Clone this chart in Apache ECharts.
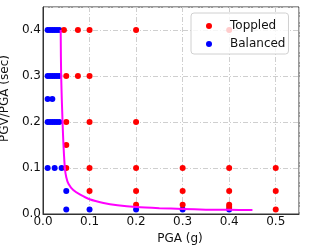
<!DOCTYPE html>
<html>
<head>
<meta charset="utf-8">
<script src="https://cdn.jsdelivr.net/npm/echarts@6/dist/echarts.min.js"></script>
<style>html,body{margin:0;padding:0;background:#fff}#c{width:311px;height:249px}</style>
</head>
<body>
<div id="c"></div>
<script>
// Toppled points [PGA (g), PGV/PGA (sec)]
const toppledPoints = [
  [0.045,0.40],[0.075,0.40],[0.1,0.40],[0.2,0.40],[0.4,0.40],
  [0.05,0.30],[0.075,0.30],[0.1,0.30],
  [0.05,0.20],[0.1,0.20],[0.2,0.20],
  [0.05,0.15],
  [0.05,0.10],[0.1,0.10],[0.2,0.10],[0.3,0.10],[0.4,0.10],[0.5,0.10],
  [0.1,0.05],[0.2,0.05],[0.3,0.05],[0.4,0.05],[0.5,0.05],
  [0.2,0.02],[0.3,0.02],[0.4,0.02],[0.4,0.015],[0.5,0.01]
];
// Balanced points
const balancedPoints = [
  [0.01,0.40],[0.015,0.40],[0.02,0.40],[0.025,0.40],[0.03,0.40],[0.035,0.40],
  [0.01,0.30],[0.015,0.30],[0.02,0.30],[0.025,0.30],[0.03,0.30],[0.035,0.30],
  [0.01,0.25],[0.02,0.25],
  [0.01,0.20],[0.015,0.20],[0.02,0.20],[0.025,0.20],[0.03,0.20],[0.035,0.20],
  [0.01,0.10],[0.025,0.10],[0.04,0.10],
  [0.05,0.05],
  [0.05,0.01],[0.1,0.01],[0.2,0.01],[0.3,0.01],[0.4,0.01]
];
// Boundary curve
const boundaryCurve = [
  [0.038,0.40],[0.039,0.30],[0.042,0.20],[0.044,0.15],[0.047,0.10],[0.050,0.08],
  [0.055,0.065],[0.065,0.052],[0.08,0.042],[0.1,0.032],[0.13,0.024],[0.16,0.019],
  [0.2,0.015],[0.25,0.0125],[0.3,0.011],[0.35,0.0095],[0.4,0.009],[0.45,0.0085]
];
const xName = 'PGA (g)';
const yName = 'PGV/PGA (sec)';
const legendNames = ['Toppled','Balanced'];

const font = 'DejaVu Sans';
const chart = echarts.init(document.getElementById('c'), null, {renderer:'canvas'});
const gridLine = {show:true, lineStyle:{color:'#cfcfcf', width:1, type:[5,2,1,2]}};
chart.setOption({
  animation:false,
  textStyle:{fontFamily:font},
  grid:{left:43, top:7, right:12, bottom:35, show:true, borderColor:'#333', borderWidth:1, containLabel:false, outerBoundsMode:'none'},
  xAxis:{
    type:'value', min:0, max:0.55, interval:0.1,
    name:xName, nameLocation:'middle', nameGap:16,
    nameTextStyle:{fontFamily:font, fontSize:12, color:'#111', padding:[0,0,0,18]},
    axisLine:{show:true, lineStyle:{color:'#333'}},
    axisTick:{show:false},
    axisLabel:{fontFamily:font, fontSize:12, color:'#111', margin:2, showMaxLabel:false, formatter:v=>v.toFixed(1)},
    splitLine:gridLine
  },
  yAxis:{
    type:'value', min:0, max:0.45, interval:0.1,
    name:yName, nameLocation:'middle', nameGap:17, nameRotate:90,
    nameTextStyle:{fontFamily:font, fontSize:12, color:'#111', padding:[0,0,0,24]},
    axisLine:{show:true, lineStyle:{color:'#333'}},
    axisTick:{show:false},
    axisLabel:{fontFamily:font, fontSize:12, color:'#111', margin:2, showMaxLabel:false, formatter:v=>v.toFixed(1)},
    splitLine:gridLine
  },
  legend:{
    data:legendNames, orient:'vertical', left:191, top:13,
    padding:[7,3,4,15], itemGap:6, itemWidth:32, itemHeight:6,
    backgroundColor:'rgba(255,255,255,0.8)', borderColor:'#d0d0d0', borderWidth:1, borderRadius:3,
    textStyle:{fontFamily:font, fontSize:12, color:'#111'}, icon:'circle'
  },
  series:[
    {name:'Balanced', type:'scatter', data:balancedPoints, symbolSize:6, itemStyle:{color:'#0000ff', opacity:1}, z:2},
    {name:'Toppled', type:'scatter', data:toppledPoints, symbolSize:6, itemStyle:{color:'#ff0000', opacity:1}, z:3},
    {name:'curve', type:'line', data:boundaryCurve, smooth:0.3, showSymbol:false, symbol:'none',
     lineStyle:{color:'#ff00ff', width:2}, z:4}
  ]
});
</script>
</body>
</html>
